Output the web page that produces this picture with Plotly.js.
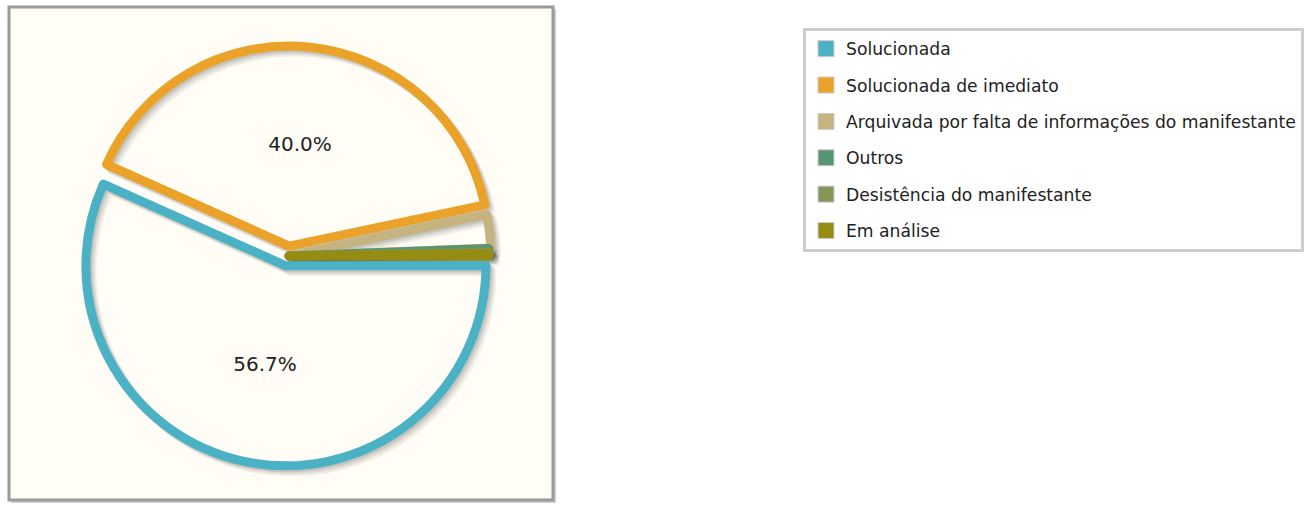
<!DOCTYPE html>
<html>
<head>
<meta charset="utf-8">
<script src="https://cdn.plot.ly/plotly-3.0.1.min.js"></script>
<style>
  html, body { margin: 0; padding: 0; background: #ffffff; }
  #chart { width: 1310px; height: 505px; }
</style>
</head>
<body>
<div id="chart"></div>
<script>
// ---- data ----
var categories = [
  "Solucionada",
  "Solucionada de imediato",
  "Arquivada por falta de informações do manifestante",
  "Outros",
  "Desistência do manifestante",
  "Em análise"
];
var values = [56.7, 40.0, 2.7, 0.3, 0.1, 0.2];
var colors = ["#4bb2c5", "#eaa228", "#c5b47f", "#579575", "#839557", "#958c12"];

// ---- layout helpers (pixel -> paper) ----
var W = 1310, H = 505;
function px(x) { return x / W; }
function py(y) { return 1 - y / H; }

var cx = 288, cy = 256, D = 420;
function domainAt(dx, dy) {
  return {
    x: [px(cx - D / 2 + dx), px(cx + D / 2 + dx)],
    y: [py(cy + D / 2 + dy), py(cy - D / 2 + dy)]
  };
}

// slice offset style: large slices pushed out more than thin ones
var pullArr = values.map(function (v) { return v >= 5 ? 0.05 : (v >= 1 ? 0.015 : 0.005); });
var labelText = values.map(function (v) { return v >= 5 ? v.toFixed(1) + "%" : ""; });
var LW = 9;

var traces = [];
// shadows
[[6, 6, 0.06], [4, 4, 0.08], [2, 2, 0.10]].forEach(function (s) {
  traces.push({
    type: "pie",
    labels: categories,
    values: values,
    sort: false,
    direction: "clockwise",
    rotation: 90,
    pull: pullArr,
    domain: domainAt(s[0], s[1]),
    marker: {
      colors: values.map(function () { return "rgba(0,0,0,0)"; }),
      line: { color: values.map(function () { return "rgba(0,0,0," + s[2] + ")"; }), width: LW }
    },
    textinfo: "none",
    hoverinfo: "skip",
    showlegend: false
  });
});
// main pie
traces.push({
  type: "pie",
  labels: categories,
  values: values,
  sort: false,
  direction: "clockwise",
  rotation: 90,
  pull: pullArr,
  domain: domainAt(0, 0),
  marker: {
    colors: values.map(function () { return "rgba(0,0,0,0)"; }),
    line: { color: colors, width: LW }
  },
  text: labelText,
  textinfo: "text",
  textposition: "inside",
  insidetextorientation: "horizontal",
  insidetextfont: { family: "DejaVu Sans", size: 20, color: "#222222" },
  showlegend: false
});
// legend entries
categories.forEach(function (c, i) {
  traces.push({
    type: "scatter",
    mode: "markers",
    x: [null], y: [null],
    name: c,
    legendgroup: "g" + i,
    marker: { symbol: "square", size: 16, color: colors[i], line: { color: "#cccccc", width: 1 } },
    hoverinfo: "skip"
  });
});

var layout = {
  width: W, height: H,
  margin: { l: 0, r: 0, t: 0, b: 0 },
  paper_bgcolor: "#ffffff",
  plot_bgcolor: "rgba(0,0,0,0)",
  xaxis: { visible: false },
  yaxis: { visible: false },
  showlegend: true,
  legend: {
    x: px(803), y: py(28), xanchor: "left", yanchor: "top",
    bgcolor: "#ffffff", bordercolor: "#cccccc", borderwidth: 3,
    font: { family: "DejaVu Sans", size: 17.2, color: "#222222" },
    tracegroupgap: 11,
    traceorder: "grouped"
  },
  shapes: [
    { type: "rect", xref: "paper", yref: "paper", layer: "below",
      x0: px(11), x1: px(556), y0: py(503), y1: py(9),
      fillcolor: "#cfcfcf", line: { width: 0 } },
    { type: "rect", xref: "paper", yref: "paper", layer: "below",
      x0: px(9), x1: px(553), y0: py(500), y1: py(7),
      fillcolor: "#fffdf6", line: { color: "#9a9a9a", width: 3 } }
  ]
};

Plotly.newPlot("chart", traces, layout, { displayModeBar: false, staticPlot: true });
</script>
</body>
</html>
